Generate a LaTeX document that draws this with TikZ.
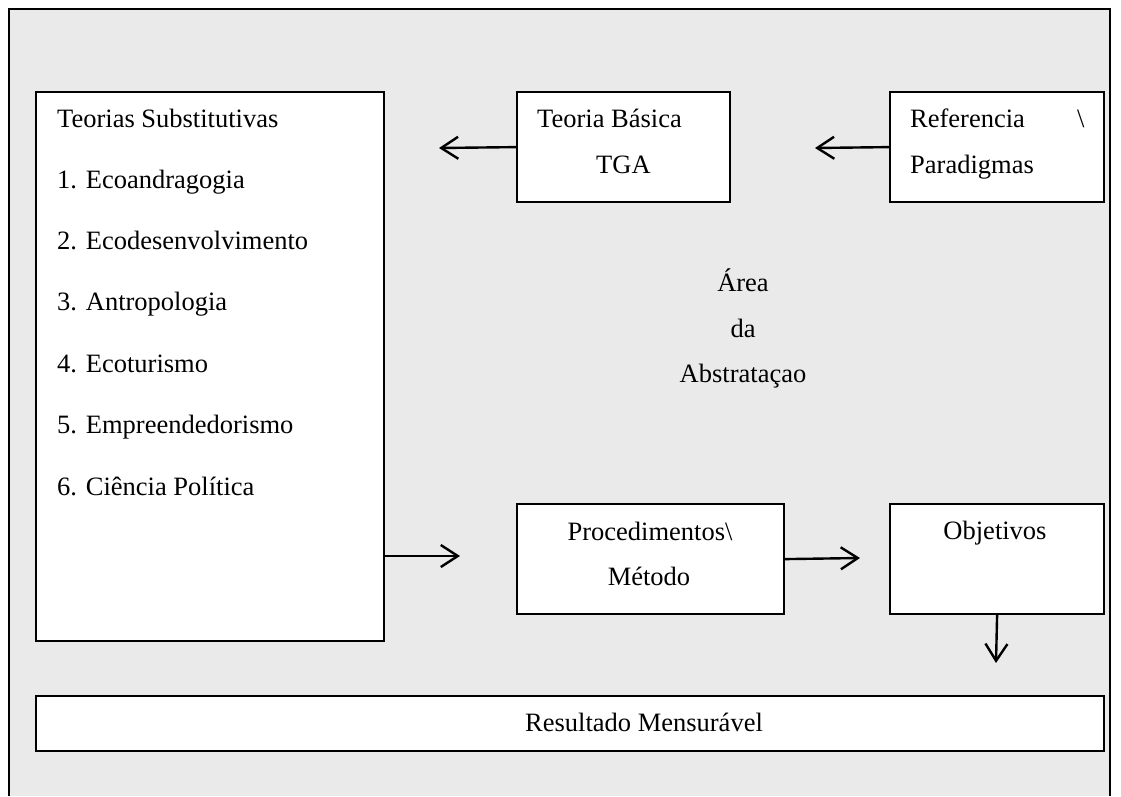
\documentclass[tikz,border=0pt]{standalone}
\usepackage{fontspec}
\setmainfont{Liberation Serif}
\usetikzlibrary{arrows.meta}
\begin{document}
\begin{tikzpicture}[x=1pt,y=-1pt,
  box/.style={draw=black,fill=white,line width=2.2pt,inner sep=0pt,anchor=north west},
  lbl/.style={inner sep=0pt,anchor=base west,font=\fontsize{26.5}{30}\selectfont},
  clbl/.style={inner sep=0pt,anchor=base,font=\fontsize{26.5}{30}\selectfont},
  arr/.style={line width=2.4pt,-{Straight Barb[length=17pt,width=22pt,line width=2.4pt]}}]
\useasboundingbox (0,0) rectangle (1121,796);
\fill[white] (0,0) rectangle (1121,796);
\fill[fill={rgb,255:red,234;green,234;blue,234}] (9,9) rectangle (1110,796);
\draw[line width=2.4pt] (9,796) -- (9,9) -- (1110,9) -- (1110,796);
% boxes
\node[box,minimum width=348pt,minimum height=549pt] (teo) at (35,91) {};
\node[box,minimum width=213pt,minimum height=110pt] (tb) at (516,91) {};
\node[box,minimum width=214pt,minimum height=110pt] (ref) at (889,91) {};
\node[box,minimum width=267pt,minimum height=110pt] (proc) at (516,503) {};
\node[box,minimum width=214pt,minimum height=110pt] (obj) at (889,503) {};
\node[box,minimum width=1068pt,minimum height=55pt] (res) at (35,695) {};
% texts
\node[lbl] (t0) at (57,127) {Teorias Substitutivas};
\node[lbl] (t1) at (57,188) {1. Ecoandragogia};
\node[lbl] (t2) at (57,249) {2. Ecodesenvolvimento};
\node[lbl] (t3) at (57,310) {3. Antropologia};
\node[lbl] (t4) at (57,372) {4. Ecoturismo};
\node[lbl] (t5) at (57,433) {5. Empreendedorismo};
\node[lbl] (t6) at (57,495) {6. Ciência Política};
\node[lbl] (tb1) at (537,127) {Teoria Básica};
\node[lbl] (tb2) at (596,173) {TGA};
\node[lbl] (rf1) at (910,127) {Referencia};
\node[lbl] (rf2) at (1077,127) {\textbackslash};
\node[lbl] (rf3) at (910,173) {Paradigmas};
\node[clbl] (a1) at (743,291) {Área};
\node[clbl] (a2) at (743,337) {da};
\node[clbl] (a3) at (743,382) {Abstrataçao};
\node[clbl] (p1) at (650,540) {Procedimentos\textbackslash};
\node[clbl] (p2) at (649,585) {Método};
\node[clbl] (o1) at (995,539) {Objetivos};
\node[clbl] (r1) at (644,731) {Resultado Mensurável};
% arrow ends
\coordinate (e1) at (439,148);
\coordinate (e2) at (815,148);
\coordinate (e3) at (460,556);
\coordinate (e4) at (860,558);
\coordinate (e5) at (996,663);
\draw[arr] (tb.west) -- (e1);
\draw[arr] (ref.west) -- (e2);
\draw[arr] (teo.east |- e3) -- (e3);
\draw[arr] (proc.east) -- (e4);
\draw[arr] (obj.south) -- (e5);
\end{tikzpicture}
\end{document}
